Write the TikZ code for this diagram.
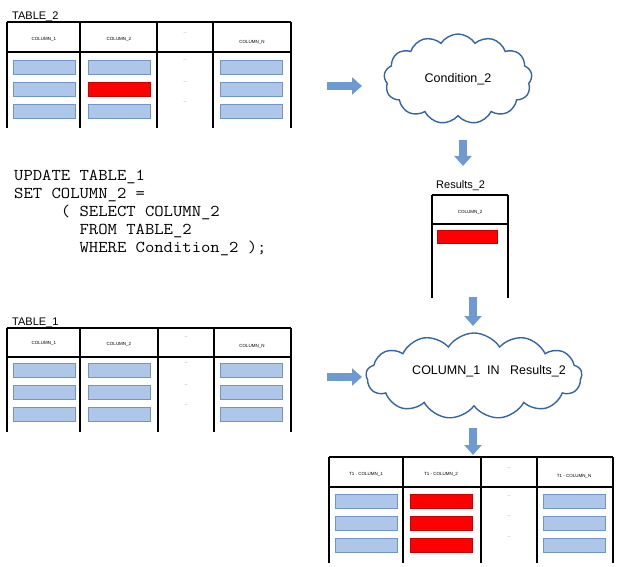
\documentclass[tikz,border=0pt]{standalone}
\usepackage{fontspec}
\setmainfont{Liberation Sans}
\setmonofont{Latin Modern Mono}[FakeStretch=1.1]
\usetikzlibrary{arrows.meta}
\usetikzlibrary{shapes.symbols}

\definecolor{cellblue}{HTML}{AEC6E8}
\definecolor{celledge}{HTML}{7094CB}
\definecolor{arrowblue}{HTML}{6C9AD1}
\definecolor{cloudedge}{HTML}{3465A4}

\tikzset{
  grid line/.style={line width=1.6pt},
  cell/.style={draw=celledge, fill=cellblue, line width=0.8pt, minimum width=62pt, minimum height=14pt, inner sep=0pt},
  hot cell/.style={cell, fill=red, draw=red!80!black},
  col name/.style={inner sep=0pt, font=\fontsize{4.5}{5}\selectfont},
  gap dots/.style={inner sep=0pt, text=gray, font=\fontsize{6}{6}\selectfont},
  tab label/.style={inner sep=0pt, anchor=base west, font=\fontsize{11}{13}\selectfont},
  block arrow/.style={draw=arrowblue, line width=8pt, -{Triangle[width=17pt,length=10pt]}},
  thought/.style={cloud, draw=cloudedge, line width=1.4pt, cloud puffs=13, cloud puff arc=115, cloud ignores aspect, inner sep=0pt, font=\fontsize{12.5}{15}\selectfont}
}

\begin{document}
\begin{tikzpicture}[x=1pt,y=-1pt]
  \useasboundingbox (0,0) rectangle (624,567);

  % TABLE_2
  \node[tab label] (t2lbl) at (12,20) {TABLE\_2};
  \begin{scope}[shift={(7,22)}]
    \foreach \cx in {0,73,150,206,284} \draw[grid line] (\cx,0) -- (\cx,106);
    \draw[grid line] (0,0) -- (284,0) (0,30) -- (284,30);
    \foreach \hx/\hy/\txt [count=\i] in {37/17/COLUMN\_1, 112/17/COLUMN\_2, 245/20/COLUMN\_N}
      \node[col name] (t2h\i) at (\hx,\hy) {\txt};
    \foreach \dy [count=\i] in {11,38,60,80} \node[gap dots] (t2d\i) at (178,\dy) {..};
    \foreach \cx [count=\c] in {37,112,244}
      \foreach \ry [count=\r] in {45,67,89} {
        \ifnum\c\r=22\else\node[cell] (t2c\c\r) at (\cx,\ry) {};\fi
      }
    \node[hot cell] (t2c22) at (112,67) {};
  \end{scope}

  % the query
  \node[anchor=north west, inner sep=0pt, align=left, font=\ttfamily\fontsize{16.5}{18}\selectfont] (sql) at (14,170)
    {UPDATE TABLE\_1\\
     SET COLUMN\_2 =\\
     \phantom{xxxxx}( SELECT COLUMN\_2\\
     \phantom{xxxxxxx}FROM TABLE\_2\\
     \phantom{xxxxxxx}WHERE Condition\_2 );};

  % TABLE_1
  \node[tab label] (t1lbl) at (12,325) {TABLE\_1};
  \begin{scope}[shift={(7,328)}]
    \foreach \cx in {0,73,151,207,284} \draw[grid line] (\cx,0) -- (\cx,104);
    \draw[grid line] (0,0) -- (284,0) (0,29) -- (284,29);
    \foreach \hx/\hy/\txt [count=\i] in {37/15/COLUMN\_1, 112/16/COLUMN\_2, 245/18/COLUMN\_N}
      \node[col name] (t1h\i) at (\hx,\hy) {\txt};
    \foreach \dy [count=\i] in {9,35,57,77} \node[gap dots] (t1d\i) at (179,\dy) {..};
    \foreach \cx [count=\c] in {37,112,244}
      \foreach \ry [count=\r] in {42,64,86}
        \node[cell] (t1c\c\r) at (\cx,\ry) {};
  \end{scope}

  % condition clouds
  \node[thought, minimum width=148pt, minimum height=90pt] (cond) at (458,79) {Condition\_2};
  \node[thought, minimum width=216pt, minimum height=86pt,
        label={[font=\fontsize{12.5}{15}\selectfont, xshift=15pt, yshift=5pt]center:COLUMN\_1\ \ IN\ \ \ Results\_2}]
    (match) at (474,376) {};

  % Results_2
  \node[tab label] (r2lbl) at (436,189) {Results\_2};
  \begin{scope}[shift={(432,195)}]
    \draw[grid line] (0,0) -- (76,0) (0,29) -- (76,29) (0,0) -- (0,103) (76,0) -- (76,103);
    \node[col name] (r2h) at (38,17) {COLUMN\_2};
    \node[hot cell, minimum width=60pt, minimum height=13pt] (r2c1) at (35,42) {};
  \end{scope}

  % result of the update
  \begin{scope}[shift={(329,457)}]
    \foreach \cx in {0,74,152,208,284} \draw[grid line] (\cx,0) -- (\cx,106);
    \draw[grid line] (0,0) -- (284,0) (0,30) -- (284,30);
    \foreach \hx/\hy/\txt [count=\i] in {37/17/T1 . COLUMN\_1, 112/17/T1 - COLUMN\_2, 245/19/T1 - COLUMN\_N}
      \node[col name] (th\i) at (\hx,\hy) {\txt};
    \foreach \dy [count=\i] in {11,39,59,80} \node[gap dots] (td\i) at (180,\dy) {..};
    \foreach \ry [count=\r] in {44,66,88} {
      \node[cell] (tc1\r) at (37,\ry) {};
      \node[hot cell] (tc2\r) at (112,\ry) {};
      \node[cell] (tc3\r) at (245,\ry) {};
    }
  \end{scope}

  % arrows
  \coordinate (t2out) at (327,86);   \coordinate (condin) at (362,86);
  \coordinate (condout) at (463,140); \coordinate (r2in) at (463,166);
  \coordinate (r2out) at (473,297);  \coordinate (matchtop) at (473,326);
  \coordinate (t1out) at (327,377);  \coordinate (matchin) at (362,377);
  \coordinate (matchout) at (473,428); \coordinate (tin) at (473,455);
  \draw[block arrow] (t2out) -- (condin);
  \draw[block arrow] (condout) -- (r2in);
  \draw[block arrow] (r2out) -- (matchtop);
  \draw[block arrow] (t1out) -- (matchin);
  \draw[block arrow] (matchout) -- (tin);
\end{tikzpicture}
\end{document}
